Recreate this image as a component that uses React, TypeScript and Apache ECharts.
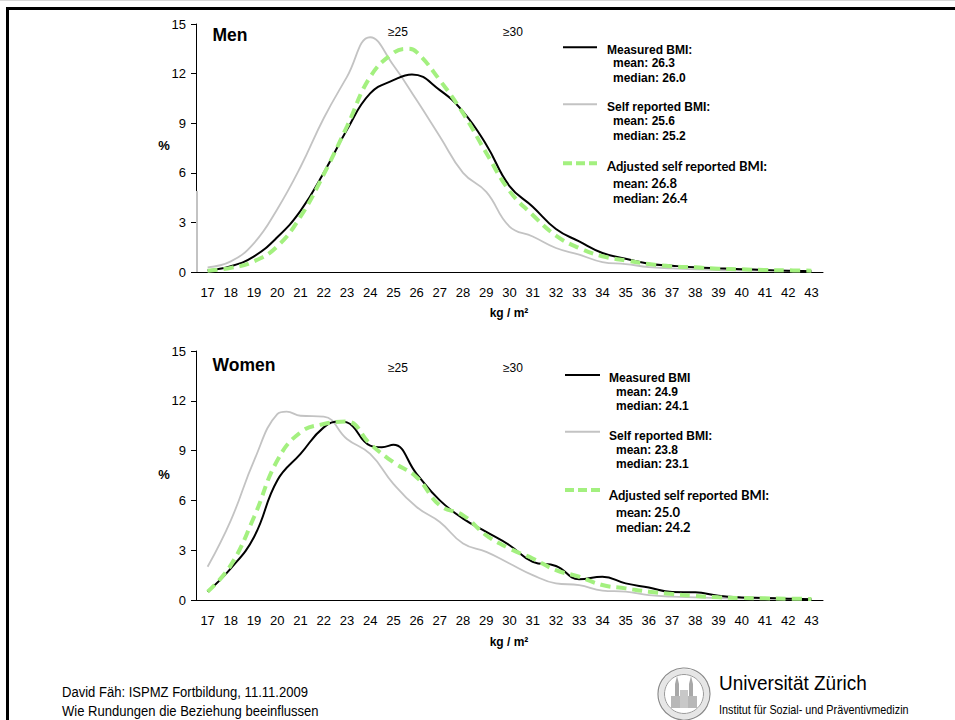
import React, { useEffect, useRef } from 'react';
import * as echarts from 'echarts';

// ---- data ----
const BMI_TICKS = ['17', '18', '19', '20', '21', '22', '23', '24', '25', '26', '27', '28', '29', '30', '31', '32', '33', '34', '35', '36', '37', '38', '39', '40', '41', '42', '43'];
const Y_TICKS = [0, 3, 6, 9, 12, 15];

const MEN_MEASURED: [number, number][] = [
  [17, 0.1], [18, 0.35], [19, 0.95], [20, 2.1], [21, 3.7], [22, 6.0], [23, 8.6], [24, 10.8], [25, 11.6], [25.8, 11.95],
  [27, 11.0], [28, 9.7], [29, 7.7], [30, 5.2], [31, 3.95], [32, 2.6], [33, 1.85], [34, 1.15], [35, 0.8], [36, 0.5],
  [37, 0.38], [38, 0.28], [39, 0.22], [40, 0.17], [41, 0.12], [42, 0.08], [43, 0.05],
];
const MEN_SELF: [number, number][] = [
  [17, 0.28], [18, 0.64], [19, 1.75], [20, 3.8], [21, 6.35], [22, 9.3], [23, 11.8], [24, 14.2], [25, 12.5], [26, 10.4],
  [27, 8.2], [28, 6.0], [29, 4.85], [30, 2.75], [31, 2.15], [32, 1.45], [33, 1.05], [34, 0.6], [35, 0.48], [36, 0.3],
  [37, 0.22], [38, 0.16], [39, 0.12], [40, 0.1], [41, 0.08], [42, 0.06], [43, 0.05],
];
const MEN_ADJUSTED: [number, number][] = [
  [17, 0.08], [18, 0.25], [19, 0.65], [20, 1.55], [21, 3.35], [22, 5.9], [23, 8.8], [24, 11.8], [25, 13.25], [25.6, 13.5],
  [26, 13.3], [27, 11.6], [28, 9.6], [29, 7.2], [30, 4.9], [31, 3.45], [32, 2.2], [33, 1.45], [34, 0.95], [35, 0.7],
  [36, 0.48], [37, 0.34], [38, 0.28], [39, 0.2], [40, 0.16], [41, 0.12], [42, 0.1], [43, 0.08],
];
const MEN_SELF_EDGE = 4.9; // gray trace running up the y axis at the left edge

const WOMEN_MEASURED: [number, number][] = [
  [17, 0.5], [18, 1.9], [19, 3.8], [20, 7.2], [21, 8.8], [22, 10.4], [22.7, 10.75], [23, 10.7], [24, 9.3], [24.5, 9.2],
  [25, 9.35], [26, 7.6], [27, 6.0], [28, 4.9], [29, 4.1], [30, 3.3], [31, 2.3], [32, 2.05], [33, 1.25], [34, 1.4],
  [35, 1.0], [36, 0.75], [37, 0.48], [38, 0.46], [39, 0.25], [40, 0.15], [41, 0.12], [42, 0.08], [43, 0.05],
];
const WOMEN_SELF: [number, number][] = [
  [17, 2.0], [18, 4.8], [19, 8.4], [20, 11.2], [20.4, 11.35], [21, 11.1], [22, 11.05], [23, 9.7], [24, 8.8], [25, 7.0],
  [26, 5.6], [27, 4.7], [28, 3.4], [29, 2.9], [30, 2.2], [31, 1.5], [32, 1.0], [33, 0.9], [34, 0.56], [35, 0.5],
  [36, 0.3], [37, 0.2], [38, 0.16], [39, 0.12], [40, 0.1], [41, 0.08], [42, 0.06], [43, 0.05],
];
const WOMEN_ADJUSTED: [number, number][] = [
  [17, 0.5], [18, 2.1], [19, 5.0], [20, 8.4], [21, 10.1], [22, 10.6], [23, 10.75], [24, 9.4], [25, 8.3], [26, 7.4],
  [27, 5.7], [28, 5.1], [29, 3.9], [30, 3.1], [31, 2.5], [32, 1.8], [33, 1.4], [34, 0.9], [35, 0.7], [36, 0.5],
  [37, 0.36], [38, 0.24], [39, 0.16], [40, 0.12], [41, 0.1], [42, 0.08], [43, 0.06],
];

const PANEL_TITLES = ['Men', 'Women'];
const THRESHOLDS = ['≥25', '≥30'];
const MEN_LEGEND = [
  ['Measured BMI:', 'mean: 26.3', 'median: 26.0'],
  ['Self reported BMI:', 'mean: 25.6', 'median: 25.2'],
  ['Adjusted self reported BMI:', 'mean: 26.8', 'median: 26.4'],
];
const WOMEN_LEGEND = [
  ['Measured BMI', 'mean: 24.9', 'median: 24.1'],
  ['Self reported BMI:', 'mean: 23.8', 'median: 23.1'],
  ['Adjusted self reported BMI:', 'mean: 25.0', 'median: 24.2'],
];
const Y_NAME = '%';
const X_NAME = 'kg / m²';
const FOOTER = ['David Fäh: ISPMZ Fortbildung, 11.11.2009', 'Wie Rundungen die Beziehung beeinflussen'];
const UNI = ['Universität Zürich', 'Institut für Sozial- und Präventivmedizin'];

// ---- styles ----
const FONT = '"Liberation Sans", Arial, sans-serif';
const FONT_C = 'Lato, "Liberation Sans", sans-serif';
const BLACK = '#000000';
const GRAY = '#c3c3c3';
const GREEN = '#a3f07f';

const GRID_LEFT = 196;
const GRID_WIDTH = 627;
const PANELS = [
  { top: 24, height: 248 },
  { top: 351, height: 249 },
];

function buildOption() {
  const grids = PANELS.map((p) => ({ left: GRID_LEFT, top: p.top, width: GRID_WIDTH, height: p.height, containLabel: false }));
  const xAxes: any[] = [];
  const yAxes: any[] = [];
  PANELS.forEach((_, i) => {
    xAxes.push({
      type: 'category', gridIndex: i, data: BMI_TICKS, boundaryGap: true,
      axisLine: { lineStyle: { color: BLACK, width: 1 } }, axisTick: { show: false },
      axisLabel: { color: BLACK, fontSize: 13, fontFamily: FONT, margin: 14, interval: 0 },
    });
    xAxes.push({ type: 'value', gridIndex: i, min: 16.5, max: 43.5, show: false });
    yAxes.push({
      type: 'value', gridIndex: i, min: Y_TICKS[0], max: Y_TICKS[Y_TICKS.length - 1], interval: 3,
      axisLine: { show: true, lineStyle: { color: BLACK, width: 1 } },
      axisTick: { show: true, length: 5, lineStyle: { color: BLACK } },
      splitLine: { show: false },
      axisLabel: { color: BLACK, fontSize: 13, fontFamily: FONT, margin: 10 },
    });
  });
  const line = (data: [number, number][], i: number, color: string, width: number, dash?: number[], extra: any = {}) => ({
    type: 'line', xAxisIndex: i * 2 + 1, yAxisIndex: i, data, smooth: 0.45, symbol: 'none', silent: true,
    lineStyle: { color, width, type: dash ? dash : 'solid', cap: 'butt' }, ...extra,
  });
  const series = [
    line(MEN_SELF, 0, GRAY, 1.8, undefined, {
      markLine: {
        silent: true, symbol: 'none', label: { show: false },
        lineStyle: { color: GRAY, width: 2, type: 'solid' },
        data: [[{ coord: [16.52, 0] }, { coord: [16.52, MEN_SELF_EDGE] }]],
      },
    }),
    line(MEN_MEASURED, 0, BLACK, 2),
    line(MEN_ADJUSTED, 0, GREEN, 4, [10, 6]),
    line(WOMEN_SELF, 1, GRAY, 1.8),
    line(WOMEN_MEASURED, 1, BLACK, 2),
    line(WOMEN_ADJUSTED, 1, GREEN, 4, [10, 6]),
  ];

  const g: any[] = [];
  const txt = (x: number, y: number, text: string, size: number, weight: string, font = FONT, align = 'left', extra: any = {}) => ({
    type: 'text', x, y, silent: true, ...extra,
    style: { text, fill: BLACK, fontSize: size, fontWeight: weight, fontFamily: font, align, verticalAlign: 'middle' },
  });
  const hline = (x1: number, x2: number, y: number, color: string, w: number, dash?: number[]) => ({
    type: 'line', silent: true, shape: { x1, y1: y, x2, y2: y },
    style: { stroke: color, lineWidth: w, lineDash: dash || null },
  });

  // frame
  g.push(hline(0, 955, 0.5, '#d8d8d8', 1));
  g.push(hline(6, 955, 8.5, BLACK, 3));
  g.push({ type: 'line', silent: true, shape: { x1: 7.5, y1: 7, x2: 7.5, y2: 720 }, style: { stroke: BLACK, lineWidth: 3 } });

  const legendLayouts = [
    { lx1: 563, lx2: 597, tx: 607, sx: 613, lines: [47.3, 104.3, 163.3], titles: [50, 106.7, 165.7], means: [63.3, 120.7, 183.3], medians: [77.7, 135.7, 198.3] },
    { lx1: 565, lx2: 600, tx: 609, sx: 616, lines: [375, 431.7, 490], titles: [378.3, 436, 495], means: [392.3, 450, 511.7], medians: [406, 464.3, 526.7] },
  ];
  const legends = [MEN_LEGEND, WOMEN_LEGEND];
  const colors = [BLACK, GRAY, GREEN];
  const widths = [2, 2, 4];
  legendLayouts.forEach((L, p) => {
    legends[p].forEach((row, k) => {
      const dash = k === 2 ? [9, 4] : undefined;
      g.push(hline(L.lx1, L.lx2, L.lines[k], colors[k], widths[k], dash));
      const f = k === 2 ? FONT_C : FONT;
      const fs = k === 2 ? 13 : 12;
      g.push(txt(L.tx, L.titles[k], row[0], fs, 'bold', f));
      g.push(txt(L.sx, L.means[k], row[1], fs, 'bold', f));
      g.push(txt(L.sx, L.medians[k], row[2], fs, 'bold', f));
    });
  });

  // panel titles, thresholds, axis names
  const titleY = [35, 365];
  const thrY = [31.7, 367.7];
  const pctY = [145, 474];
  const kgY = [313, 642];
  PANELS.forEach((_, i) => {
    g.push(txt(212.5, titleY[i], PANEL_TITLES[i], 17.5, 'bold'));
    g.push(txt(398, thrY[i], THRESHOLDS[0], 12, 'normal', FONT, 'center'));
    g.push(txt(513, thrY[i], THRESHOLDS[1], 12, 'normal', FONT, 'center'));
    g.push(txt(164, pctY[i], Y_NAME, 13, 'bold', FONT, 'center'));
    g.push(txt(509, kgY[i], X_NAME, 12, 'bold', FONT, 'center'));
  });

  // footer
  g.push(txt(62, 692, FOOTER[0], 15, 'normal', FONT, 'left', { scaleX: 0.87 }));
  g.push(txt(62, 711, FOOTER[1], 15, 'normal', FONT, 'left', { scaleX: 0.87 }));
  g.push(txt(719, 683, UNI[0], 20, 'normal', FONT, 'left', { scaleX: 0.95 }));
  g.push(txt(719, 710, UNI[1], 12, 'normal', FONT, 'left', { scaleX: 0.9 }));

  // seal
  const cx = 684, cy = 694;
  g.push({ type: 'ring', silent: true, shape: { cx, cy, r: 25, r0: 20 }, style: { fill: '#e6e6e6' } });
  g.push({ type: 'circle', silent: true, shape: { cx, cy, r: 26 }, style: { fill: 'none', stroke: '#8a8a8a', lineWidth: 1.2 } });
  g.push({ type: 'circle', silent: true, shape: { cx, cy, r: 19.5 }, style: { fill: 'none', stroke: '#9a9a9a', lineWidth: 1 } });
  g.push({ type: 'polygon', silent: true, shape: { points: [[675, 708], [675, 684], [677, 676], [679, 684], [679, 708]] }, style: { fill: '#a8a8a8' } });
  g.push({ type: 'polygon', silent: true, shape: { points: [[689, 708], [689, 684], [691, 676], [693, 684], [693, 708]] }, style: { fill: '#a8a8a8' } });
  g.push({ type: 'rect', silent: true, shape: { x: 671, y: 696, width: 26, height: 12 }, style: { fill: '#b8b8b8' } });
  g.push({ type: 'rect', silent: true, shape: { x: 680, y: 690, width: 8, height: 18 }, style: { fill: '#c8c8c8' } });

  return {
    animation: false,
    backgroundColor: '#ffffff',
    grid: grids,
    xAxis: xAxes,
    yAxis: yAxes,
    series,
    graphic: { elements: g },
  };
}

export default function App() {
  const ref = useRef<HTMLDivElement>(null);
  useEffect(() => {
    if (!ref.current) return;
    const chart = echarts.init(ref.current, null, { renderer: 'svg' });
    chart.setOption(buildOption() as any);
    return () => chart.dispose();
  }, []);
  return <div ref={ref} style={{ position: 'absolute', left: 0, top: 0, width: 955, height: 720 }} />;
}
